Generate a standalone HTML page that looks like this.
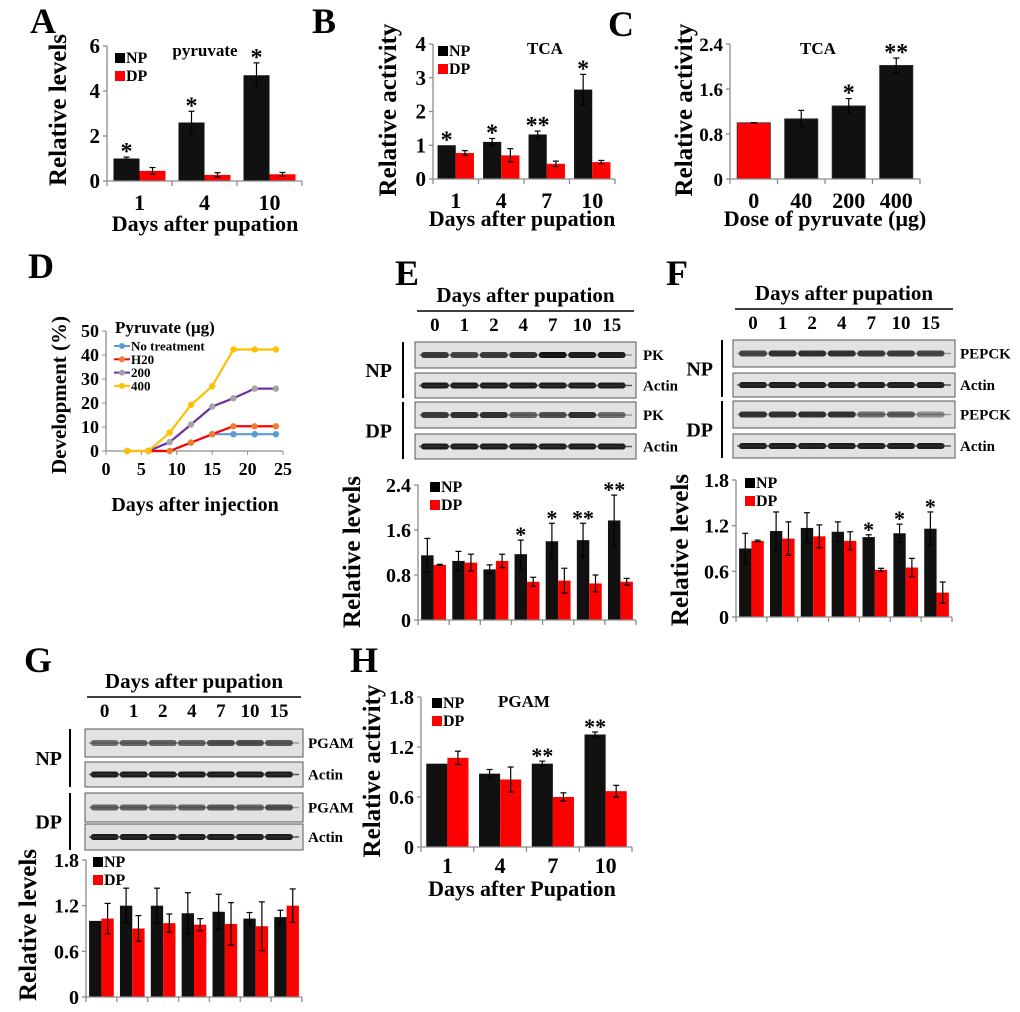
<!DOCTYPE html>
<html><head><meta charset="utf-8">
<style>
html,body{margin:0;padding:0;background:#fff;}
svg{display:block;font-family:"Liberation Serif",serif;font-weight:bold;}
</style></head>
<body>
<svg id="fig" width="1020" height="1012" viewBox="0 0 1020 1012" xmlns="http://www.w3.org/2000/svg">
<rect x="0" y="0" width="1020" height="1012" fill="#fff"/>
</svg>
<script>
// ---------- DATA ----------
const A_cats=['1','4','10'];
const A_np=[1.0,2.6,4.7];
const A_npErr=[0.06,0.5,0.55];
const A_dp=[0.45,0.27,0.3];
const A_dpErr=[0.15,0.1,0.08];
const A_stars=['*','*','*'];
const A_ticks=[0,2,4,6];

const B_cats=['1','4','7','10'];
const B_np=[1.0,1.1,1.32,2.65];
const B_npErr=[0,0.1,0.1,0.45];
const B_dp=[0.77,0.7,0.45,0.5];
const B_dpErr=[0.07,0.2,0.08,0.05];
const B_stars=['*','*','**','*'];
const B_ticks=[0,1,2,3,4];

const C_cats=['0','40','200','400'];
const C_vals=[1.0,1.07,1.3,2.02];
const C_err=[0,0.15,0.13,0.13];
const C_stars=['','','*','**'];
const C_ticks=[0,0.8,1.6,2.4];

const D_days=[3,6,9,12,15,18,21,24];
const D_noTreat=[0,0,0,3.5,7,7,7,7];
const D_h2o=[null,0,0,3.5,7,10.3,10.3,10.3];
const D_p200=[null,0,3.7,11,18.5,22,26,26];
const D_p400=[0,0,7.7,19.2,27,42.3,42.3,42.3];
const D_xticks=[0,5,10,15,20,25];
const D_yticks=[0,10,20,30,40,50];

const lanes=['0','1','2','4','7','10','15'];
const E_np=[1.15,1.05,0.9,1.17,1.4,1.42,1.77];
const E_npErr=[0.3,0.17,0.08,0.25,0.32,0.3,0.45];
const E_dp=[0.98,1.02,1.05,0.68,0.7,0.65,0.68];
const E_dpErr=[0.01,0.15,0.12,0.08,0.22,0.15,0.06];
const E_stars=['','','','*','*','**','**'];
const E_ticks=[0,0.8,1.6,2.4];
const E_bandNP=[0.8,0.75,0.8,0.85,1,0.95,0.95];
const E_bandDP=[0.8,0.85,0.85,0.6,0.7,0.85,0.55];

const F_np=[0.9,1.13,1.17,1.12,1.05,1.1,1.16];
const F_npErr=[0.2,0.25,0.2,0.13,0.03,0.12,0.22];
const F_dp=[1.0,1.03,1.06,1.0,0.62,0.65,0.32];
const F_dpErr=[0.01,0.22,0.15,0.12,0.02,0.12,0.14];
const F_stars=['','','','','*','*','*'];
const F_ticks=[0,0.6,1.2,1.8];
const F_bandNP=[0.75,0.85,0.85,0.85,0.8,0.8,0.75];
const F_bandDP=[0.85,0.85,0.85,0.85,0.55,0.65,0.4];

const G_np=[1.0,1.2,1.2,1.1,1.12,1.03,1.05];
const G_npErr=[0,0.23,0.23,0.27,0.23,0.08,0.09];
const G_dp=[1.03,0.9,0.97,0.95,0.96,0.93,1.2];
const G_dpErr=[0.2,0.17,0.12,0.08,0.28,0.32,0.22];
const G_stars=['','','','','','',''];
const G_ticks=[0,0.6,1.2,1.8];
const G_bandNP=[0.55,0.6,0.6,0.6,0.7,0.7,0.65];
const G_bandDP=[0.6,0.6,0.55,0.6,0.65,0.6,0.7];

const H_cats=['1','4','7','10'];
const H_np=[1.0,0.88,1.0,1.35];
const H_npErr=[0,0.05,0.03,0.03];
const H_dp=[1.07,0.81,0.6,0.67];
const H_dpErr=[0.08,0.15,0.05,0.07];
const H_stars=['','','**','**'];
const H_ticks=[0,0.6,1.2,1.8];

// ---------- HELPERS ----------
const NS='http://www.w3.org/2000/svg';
const svg=document.getElementById('fig');
function el(tag,attrs,parent){const e=document.createElementNS(NS,tag);for(const k in attrs)e.setAttribute(k,attrs[k]);(parent||svg).appendChild(e);return e;}
function txt(s,x,y,size,parent,anchor,extra){const t=el('text',Object.assign({x:x,y:y,'font-size':size,'text-anchor':anchor||'middle',fill:'#000'},extra||{}),parent);t.textContent=s;return t;}
function fmt(v){return (Math.round(v*10)/10).toString();}
const AX='#8c8c8c';

function panelLetter(s,x,y){
  const t=txt(s,x,y,36,svg,'start');
  
  
}

function yTitle(s,x,yc,size,parent){
  const t=txt(s,x,yc,size,parent,'middle',{transform:'rotate(-90 '+x+' '+yc+')'});
  
  
}

function legend(parent,x,y,size){
  const g=el('g',{},parent);
  
  
  const r1=el('rect',{x:x,y:y-10,width:10,height:10,fill:'#000'},g);
  
  
  txt('NP',x+11,y,size,g,'start');
  const r2=el('rect',{x:x,y:y+8,width:10,height:10,fill:'#ff0000'},g);
  
  
  txt('DP',x+11,y+18,size,g,'start');
}

function barChart(name,geo,cats,np,npErr,dp,dpErr,stars,ticks,opt){
  const g=el('g',{});
  
  
  const max=ticks[ticks.length-1];
  const ys=v=>geo.y0-(v/max)*(geo.y0-geo.yt);
  const n=np.length, gw=(geo.x1-geo.x0)/n;
  const sfs=geo.sfs||24;
  const sOff=2;
  const ya=el('line',{x1:geo.x0,y1:geo.yt,x2:geo.x0,y2:geo.y0,stroke:AX,'stroke-width':1.3},g);
  
  
  ticks.forEach(t=>{
    el('line',{x1:geo.x0-4,x2:geo.x0,y1:ys(t),y2:ys(t),stroke:AX,'stroke-width':1.3},g);
    const tl=txt(opt.tf?opt.tf(t):fmt(t),geo.x0-7,ys(t)+7,geo.tfs||21,g,'end');
    
    
  });
  for(let i=0;i<n;i++){
    const cx=geo.x0+gw*(i+0.5);
    const bw=gw*(opt.single?0.7:0.4);
    if(opt.single){
      const b=el('rect',{x:cx-bw/2,y:ys(np[i]),width:bw,height:geo.y0-ys(np[i]),fill:i===0?'#ff0000':'#111',stroke:'#333','stroke-width':0.8},g);
      
      
      errBar(g,cx,ys(np[i]-npErr[i]),ys(np[i]+npErr[i]));
      if(stars[i]){const s=txt(stars[i],cx,ys(np[i]+npErr[i])+sOff,sfs,g,'middle');}
    } else {
      const xb=cx-bw;
      const b1=el('rect',{x:xb,y:ys(np[i]),width:bw,height:geo.y0-ys(np[i]),fill:'#111'},g);
      
      
      const b2=el('rect',{x:cx,y:ys(dp[i]),width:bw,height:geo.y0-ys(dp[i]),fill:'#ff0000'},g);
      
      
      if(npErr[i]>0)errBar(g,xb+bw/2,ys(np[i]-npErr[i]),ys(np[i]+npErr[i]));
      if(dpErr[i]>0)errBar(g,cx+bw/2,ys(dp[i]-dpErr[i]),ys(dp[i]+dpErr[i]));
      if(stars[i]){const s=txt(stars[i],xb+bw/2,ys(np[i]+npErr[i])+sOff,sfs,g,'middle');}
    }
    if(opt.xlab){const xl=txt(cats[i],cx,geo.xly,22,g);}
  }
  const xa=el('line',{x1:geo.x0,y1:geo.y0,x2:geo.x1,y2:geo.y0,stroke:AX,'stroke-width':1.3},g);
  
  
  for(let i=0;i<=n;i++)el('line',{x1:geo.x0+gw*i,x2:geo.x0+gw*i,y1:geo.y0,y2:geo.y0+5,stroke:AX,'stroke-width':1.3},g);
  return g;
}
function errBar(g,x,ylo,yhi){
  el('line',{x1:x,x2:x,y1:ylo,y2:yhi,stroke:'#000','stroke-width':1.2},g);
  el('line',{x1:x-3,x2:x+3,y1:ylo,y2:ylo,stroke:'#000','stroke-width':1.2},g);
  el('line',{x1:x-3,x2:x+3,y1:yhi,y2:yhi,stroke:'#000','stroke-width':1.2},g);
}

function blot(name,fx,fw,headY,rows,prot,npBand,dpBand,labX,grpX,vX){
  const g=el('g',{});
  
  
  const ht=txt('Days after pupation',fx+fw/2,headY,21,g);
  
  
  el('line',{x1:fx+2,x2:fx+fw-2,y1:headY+9,y2:headY+9,stroke:'#000','stroke-width':1.6},g);
  const c0=fx+fw*0.09, step=fw*0.8/6;
  lanes.forEach((l,i)=>{const t=txt(l,c0+step*i,headY+29,19,g);});
  const bands=[npBand,null,dpBand,null];
  const labels=[prot,'Actin',prot,'Actin'];
  rows.forEach((r,ri)=>{
    const fr=el('rect',{x:fx,y:r[0],width:fw,height:r[1]-r[0],fill:'#e2e2e2',stroke:'#555','stroke-width':1},g);
    
    
    const mid=(r[0]+r[1])/2;
    for(let i=0;i<7;i++){
      const k=bands[ri]?bands[ri][i]:0.95;
      el('rect',{x:c0+step*i-14,y:mid-3,width:28,height:6,rx:3,fill:'#111','fill-opacity':k},g);
    }
    el('line',{x1:fx+4,x2:fx+fw-4,y1:mid,y2:mid,stroke:'#333','stroke-width':1.5,'stroke-opacity':ri%2?0.8:0.4},g);
    const lt=txt(labels[ri],labX,mid+5,15,g,'start');
    
    
  });
  el('line',{x1:vX,x2:vX,y1:rows[0][0],y2:rows[1][1],stroke:'#000','stroke-width':2},g);
  el('line',{x1:vX,x2:vX,y1:rows[2][0],y2:rows[3][1],stroke:'#000','stroke-width':2},g);
  txt('NP',grpX,(rows[0][0]+rows[1][1])/2+7,20,g,'end');
  txt('DP',grpX,(rows[2][0]+rows[3][1])/2+7,20,g,'end');
}

// ---------- PANEL A ----------
panelLetter('A',30,33);
const gA=barChart('chart-a',{x0:107,x1:302,y0:181,yt:46,xly:210},A_cats,A_np,A_npErr,A_dp,A_dpErr,A_stars,A_ticks,{xlab:true});
txt('pyruvate',205,56,17,gA);
legend(gA,115,63,16);
txt('Days after pupation',205,231,22,gA);
yTitle('Relative levels',66,110,25,gA);

// ---------- PANEL B ----------
panelLetter('B',312,33);
const gB=barChart('chart-b',{x0:433,x1:615,y0:179,yt:44,xly:208},B_cats,B_np,B_npErr,B_dp,B_dpErr,B_stars,B_ticks,{xlab:true});
txt('TCA',545,54,17,gB);
legend(gB,438,56,16);
txt('Days after pupation',522,226,22,gB);
yTitle('Relative activity',396,110,25,gB);

// ---------- PANEL C ----------
panelLetter('C',608,36);
const gC=barChart('chart-c',{x0:730,x1:920,y0:179,yt:44,xly:208,tfs:19},C_cats,C_vals,C_err,null,null,C_stars,C_ticks,{xlab:true,single:true});
txt('TCA',818,54,17,gC);
txt('Dose of pyruvate (μg)',825,226,22,gC);
yTitle('Relative activity',692,110,25,gC);

// ---------- PANEL D ----------
panelLetter('D',28,278);
(function(){
  const g=el('g',{});
  
  
  const x0=106,x1=283,y0=451,yt=331;
  const xs=v=>x0+v/25*(x1-x0), ys=v=>y0-v/50*(y0-yt);
  el('line',{x1:x0,x2:x0,y1:yt,y2:y0,stroke:AX,'stroke-width':1.3},g);
  el('line',{x1:x0,x2:x1,y1:y0,y2:y0,stroke:AX,'stroke-width':1.3},g);
  D_yticks.forEach(t=>{el('line',{x1:x0-4,x2:x0,y1:ys(t),y2:ys(t),stroke:AX},g);const l=txt(String(t),x0-7,ys(t)+6,18,g,'end');});
  D_xticks.forEach(t=>{el('line',{x1:xs(t),x2:xs(t),y1:y0,y2:y0+4,stroke:AX},g);const l=txt(String(t),xs(t),y0+24,18,g);});
  const series=[[D_noTreat,'#5b9bd5','#5b9bd5','no-treatment'],[D_h2o,'#ff0000','#ed7d31','h2o'],[D_p200,'#7030a0','#a5a5a5','pyruvate-200'],[D_p400,'#ffc000','#ffc000','pyruvate-400']];
  series.forEach(s=>{
    let pts=[];
    D_days.forEach((d,i)=>{if(s[0][i]!==null)pts.push(xs(d)+','+ys(s[0][i]));});
    const pl=el('polyline',{points:pts.join(' '),fill:'none',stroke:s[1],'stroke-width':2.2},g);
    
    
    D_days.forEach((d,i)=>{if(s[0][i]!==null){const c=el('circle',{cx:xs(d),cy:ys(s[0][i]),r:3.2,fill:s[2]},g);}});
  });
  txt('Pyruvate (μg)',115,333,17,g,'start');
  const leg=[['No treatment','#5b9bd5','#5b9bd5'],['H20','#ff0000','#ed7d31'],['200','#7030a0','#a5a5a5'],['400','#ffc000','#ffc000']];
  leg.forEach((L,i)=>{
    const y=346+i*13.3;
    el('line',{x1:114,x2:130,y1:y,y2:y,stroke:L[1],'stroke-width':2},g);
    const m=el('circle',{cx:122,cy:y,r:3,fill:L[2]},g);
    
    
    txt(L[0],131,y+4.5,13,g,'start');
  });
  yTitle('Development (%)',66,395,21,g);
  txt('Days after injection',195,511,20,g);
})();

// ---------- PANEL E ----------
panelLetter('E',395,285);
blot('blot-e',415,221,302,[[342,368],[373,398],[402,428],[434,459]],'PK',E_bandNP,E_bandDP,643,392,403);
const gE=barChart('chart-e',{x0:418,x1:636,y0:620,yt:485,sfs:22,tfs:20},lanes,E_np,E_npErr,E_dp,E_dpErr,E_stars,E_ticks,{tf:t=>t===0?'0':t.toFixed(1)});
legend(gE,430,492,16);
yTitle('Relative levels',360,552,25,gE);

// ---------- PANEL F ----------
panelLetter('F',666,285);
blot('blot-f',733,222,300,[[340,367],[373,397],[401,428],[434,458]],'PEPCK',F_bandNP,F_bandDP,960,713,722);
const gF=barChart('chart-f',{x0:736,x1:952,y0:617,yt:480,sfs:22,tfs:20},lanes,F_np,F_npErr,F_dp,F_dpErr,F_stars,F_ticks,{tf:t=>t===0?'0':t.toFixed(1)});
legend(gF,745,488,16);
yTitle('Relative levels',688,550,25,gF);

// ---------- PANEL G ----------
panelLetter('G',24,672);
blot('blot-g',85,218,688,[[729,757],[762,787],[793,822],[824,850]],'PGAM',G_bandNP,G_bandDP,308,62,70);
const gG=barChart('chart-g',{x0:86,x1:302,y0:997,yt:860,tfs:20},lanes,G_np,G_npErr,G_dp,G_dpErr,G_stars,G_ticks,{tf:t=>t===0?'0':t.toFixed(1)});
legend(gG,93,867,16);
yTitle('Relative levels',36,925,25,gG);

// ---------- PANEL H ----------
panelLetter('H',350,672);
const gH=barChart('chart-h',{x0:421,x1:632,y0:847,yt:697,xly:873,sfs:22,tfs:20},H_cats,H_np,H_npErr,H_dp,H_dpErr,H_stars,H_ticks,{xlab:true,tf:t=>t===0?'0':t.toFixed(1)});
txt('PGAM',524,707,17,gH);
legend(gH,432,708,16);
txt('Days after Pupation',522,896,22,gH);
yTitle('Relative activity',380,771,25,gH);
</script>
</body></html>
